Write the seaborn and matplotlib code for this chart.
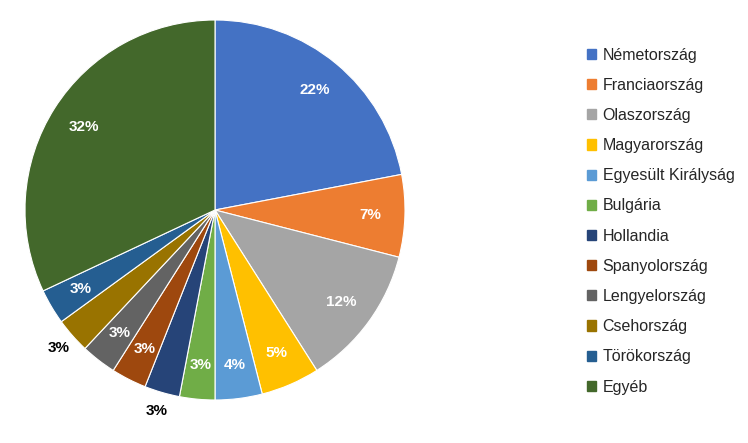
import matplotlib
matplotlib.use("Agg")
import matplotlib.pyplot as plt
import seaborn as sns
import numpy as np

sns.set_theme(style="white")
plt.rcParams['font.family'] = ['Liberation Sans', 'DejaVu Sans']

categories = ["Németország", "Franciaország", "Olaszország", "Magyarország",
              "Egyesült Királyság", "Bulgária", "Hollandia", "Spanyolország",
              "Lengyelország", "Csehország", "Törökország", "Egyéb"]
values = [22, 7, 12, 5, 4, 3, 3, 3, 3, 3, 3, 32]
colors = ["#4472C4", "#ED7D31", "#A5A5A5", "#FFC000", "#5B9BD5", "#70AD47",
          "#264478", "#9E480E", "#636363", "#997300", "#255E91", "#43682B"]
outside = {"Hollandia", "Csehország"}

fig = plt.figure(figsize=(7.48, 4.43), dpi=100)
ax = fig.add_axes([25/748, 43/443, 380/748, 380/443])
wedges, _ = ax.pie(values, colors=colors, startangle=90, counterclock=False,
                   wedgeprops=dict(linewidth=0.8, edgecolor="white"))
for w, cat, v in zip(wedges, categories, values):
    ang = np.deg2rad((w.theta1 + w.theta2) / 2)
    if cat in outside:
        r, col = 1.1, "black"
    else:
        r, col = 0.82, "white"
    ax.text(r * np.cos(ang), r * np.sin(ang), f"{v}%", ha="center", va="center",
            color=col, fontsize=11, fontweight="bold")
ax.set_xlim(-1, 1)
ax.set_ylim(-1, 1)
ax.set_aspect("equal")
for w in wedges:
    w.set_clip_on(False)

handles = [plt.Rectangle((0, 0), 1, 1, color=c) for c in colors]
fig.legend(handles, categories, loc="upper left", bbox_to_anchor=(0.765, 0.925),
           frameon=False, fontsize=11.5, handlelength=0.6, handleheight=0.6,
           labelspacing=0.95, handletextpad=0.4)
fig.savefig("out.png", dpi=100)
